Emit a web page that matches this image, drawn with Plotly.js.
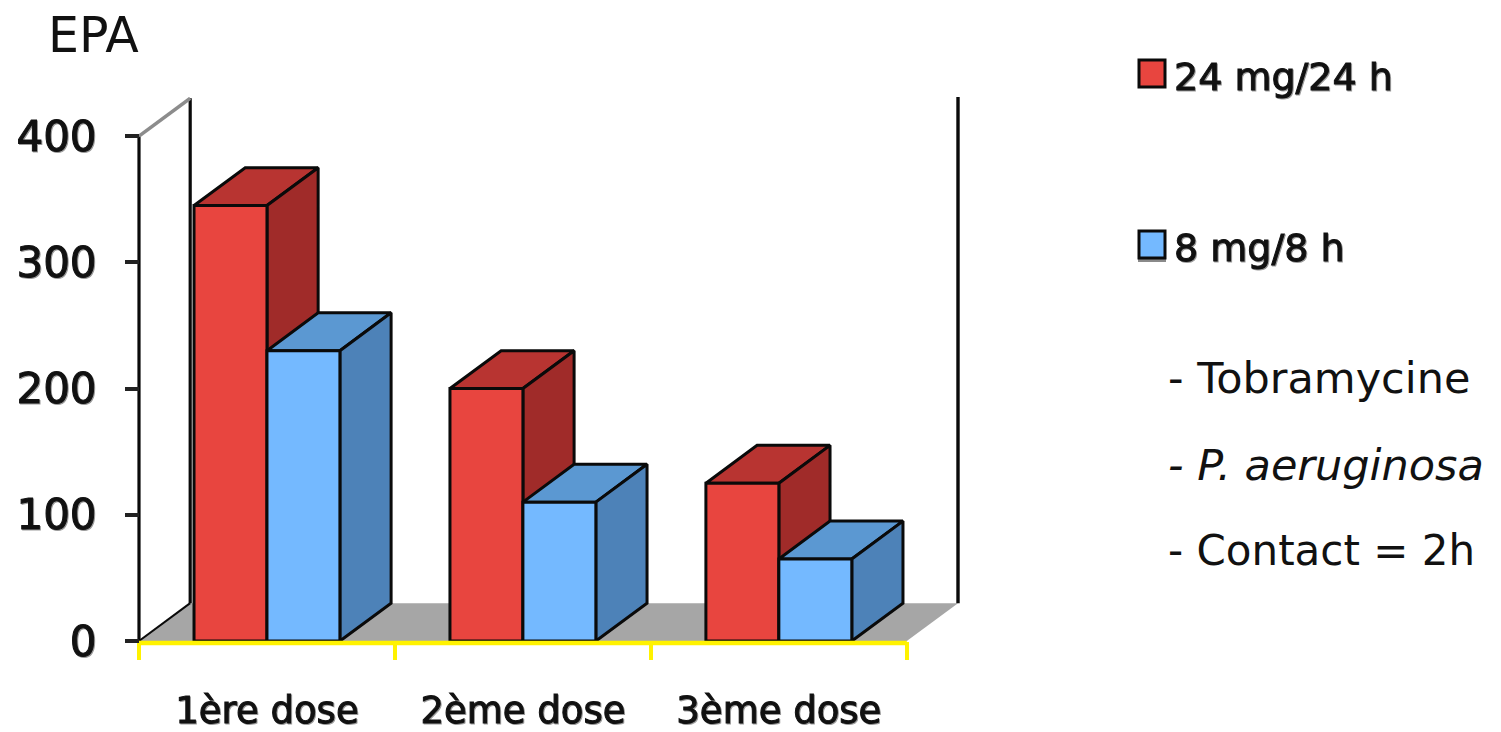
<!DOCTYPE html>
<html>
<head>
<meta charset="utf-8">
<script src="https://cdn.plot.ly/plotly-3.0.1.min.js"></script>
<style>
html,body{margin:0;padding:0;background:#fff;overflow:hidden}
.xtick text,.ytick text,.annotation[data-index="0"] text,.annotation[data-index="1"] text{stroke:#111;stroke-width:1px;filter:drop-shadow(1px 1px 0 #999)}
</style>
</head>
<body>
<div id="chart" style="width:1501px;height:732px"></div>
<script>
const categories = ['1ère dose', '2ème dose', '3ème dose'];
const dose24 = [345, 200, 125];
const dose8 = [230, 110, 65];
const yTicks = [0, 100, 200, 300, 400];
const seriesNames = ['24 mg/24 h', '8 mg/8 h'];
const notes = ['- Tobramycine', '<i>- P. aeruginosa</i>', '- Contact = 2h'];

const barW = 0.285, gap = (1 - 2 * barW) / 2, dX = 0.2, dY = 30;
const FONT = '"DejaVu Sans", Verdana, sans-serif';

function faces(values, offset) {
  const top = {x: [], y: []}, side = {x: [], y: []}, front = {x: [], y: []};
  values.forEach((v, i) => {
    const a = i + gap + offset * barW, b = a + barW;
    front.x.push(a, b, b, a, a, null); front.y.push(0, 0, v, v, 0, null);
    side.x.push(b, b + dX, b + dX, b, b, null); side.y.push(0, dY, v + dY, v, 0, null);
    top.x.push(a, b, b + dX, a + dX, a, null); top.y.push(v, v, v + dY, v + dY, v, null);
  });
  return {top, side, front};
}
function poly(f, color, name) {
  return {type: 'scatter', mode: 'lines', x: f.x, y: f.y, fill: 'toself', fillcolor: color, name,
    line: {color: '#0a0a0a', width: 3}, hoverinfo: 'skip', showlegend: false};
}
function line(x, y, color, width) {
  return {type: 'scatter', mode: 'lines', x, y, line: {color, width}, hoverinfo: 'skip', showlegend: false};
}
const n = categories.length;
const r = faces(dose24, 0), b = faces(dose8, 1);
const traces = [
  {type: 'scatter', mode: 'lines', x: [0, n, n + dX, dX, 0], y: [0, 0, dY, dY, 0], fill: 'toself',
   fillcolor: '#a6a6a6', line: {width: 0}, hoverinfo: 'skip', showlegend: false},
  line([0, 0], [0, 400], '#0a0a0a', 3.2),
  line([dX, dX], [dY, 400 + dY], '#0a0a0a', 3.2),
  line([0, dX], [400, 400 + dY], '#8c8c8c', 3.5),
  line([0, dX], [0, dY], '#0a0a0a', 2),
  line([n + dX, n + dX], [dY, 431], '#0a0a0a', 3.4),
  poly(r.top, '#b83431', seriesNames[0]), poly(r.side, '#a02b29', seriesNames[0]), poly(r.front, '#e8453f', seriesNames[0]),
  poly(b.top, '#5b98d2', seriesNames[1]), poly(b.side, '#4d82b8', seriesNames[1]), poly(b.front, '#74b9ff', seriesNames[1]),
  line([0, n], [-1.5, -1.5], '#fff200', 4.5)
];
const px = v => (v - 129) / 839, py = v => (649 - v) / 552;
const ann = (text, x, y, size) => ({text, xref: 'paper', yref: 'paper', x: px(x), y: py(y), xanchor: 'left', yanchor: 'middle',
  showarrow: false, font: {family: FONT, size, color: '#111'}});
const swatch = (y, color) => ({type: 'rect', xref: 'paper', yref: 'paper', x0: px(1139), x1: px(1165), y0: py(y), y1: py(y + 27),
  fillcolor: color, line: {color: '#0a0a0a', width: 3}});
const shadow = y => ({type: 'rect', xref: 'paper', yref: 'paper', x0: px(1138), x1: px(1166), y0: py(y + 27), y1: py(y + 31),
  fillcolor: '#8a8a8a', line: {width: 0}});

const layout = {
  width: 1501, height: 732,
  margin: {l: 129, r: 533, t: 97, b: 83},
  paper_bgcolor: '#fff', plot_bgcolor: 'rgba(0,0,0,0)', showlegend: false,
  title: {text: 'EPA', x: 48 / 1501, xanchor: 'left', y: 1 - 35 / 732, yanchor: 'middle', font: {family: FONT, size: 49, color: '#111'}},
  xaxis: {range: [-10 / 256, n + dX + 10 / 256], anchor: 'free', position: 8 / 552, showgrid: false, zeroline: false, showline: false,
    tickmode: 'array', tickvals: categories.map((c, i) => i + 0.5), ticktext: categories,
    ticks: 'outside', ticklen: 37, tickcolor: 'rgba(0,0,0,0)', tickfont: {family: FONT, size: 37, color: '#111'},
    minor: {tickmode: 'array', tickvals: [0, 1, 2, 3], ticks: 'outside', ticklen: 18, tickwidth: 3.5, tickcolor: '#fff200', showgrid: false}},
  yaxis: {range: [-8 / 1.2625, 431], anchor: 'free', position: 10 / 839, showgrid: false, zeroline: false, showline: false,
    tickmode: 'array', tickvals: yTicks, ticks: 'outside', ticklen: 14, tickwidth: 4, tickcolor: '#222',
    ticklabelstandoff: 20, tickfont: {family: FONT, size: 42, color: '#111'}},
  shapes: [shadow(231), swatch(60, '#e8453f'), swatch(231, '#74b9ff')],
  annotations: [
    ann(seriesNames[0], 1172, 77, 38), ann(seriesNames[1], 1172, 248, 38),
    ann(notes[0], 1166, 378, 43), ann(notes[1], 1166, 465, 43), ann(notes[2], 1166, 550, 42)
  ]
};
Plotly.newPlot('chart', traces, layout, {staticPlot: true, displayModeBar: false});
</script>
</body>
</html>
